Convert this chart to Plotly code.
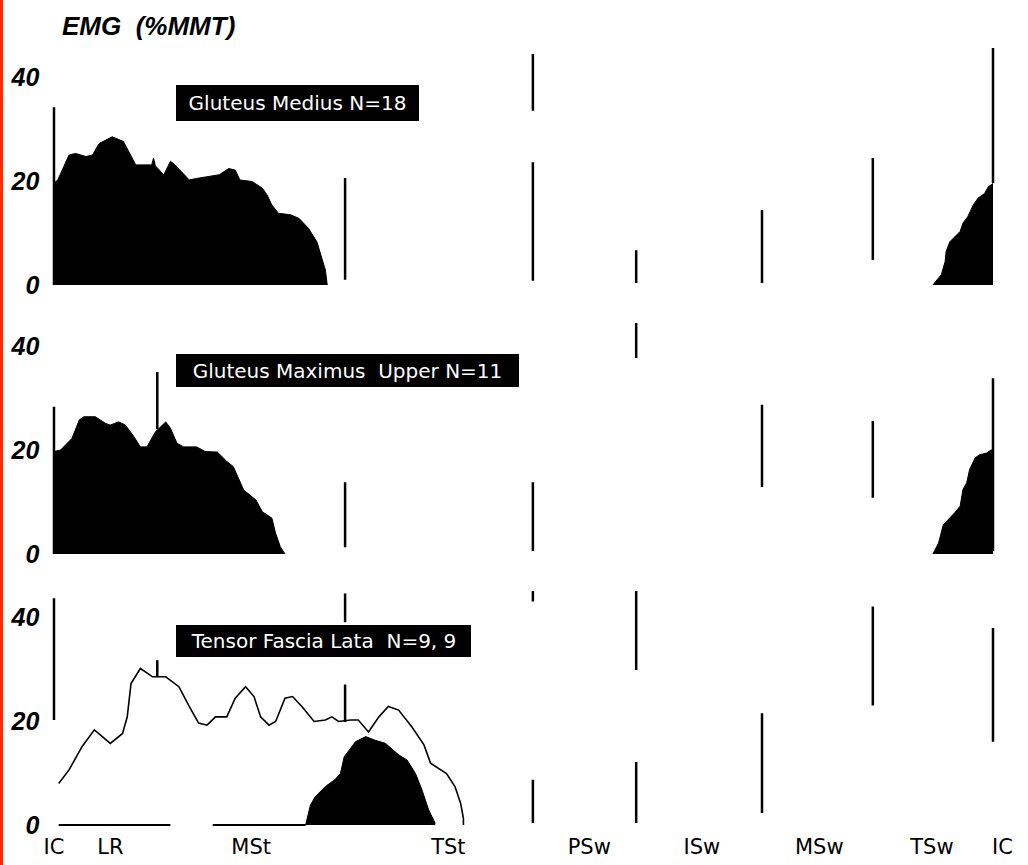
import plotly.graph_objects as go
from plotly.subplots import make_subplots

# ---------------- data (percent of gait cycle vs %MMT) ----------------
phase_labels = ["IC", "LR", "MSt", "TSt", "PSw", "ISw", "MSw", "TSw", "IC"]
phase_label_pos = [0, 6, 21, 42, 57, 69, 81.5, 93.5, 101]

gmed_x = [0, 0.4, 1.6, 2.3, 3.4, 4.1, 4.8, 6.2, 7.4, 8.7, 10.4, 10.6, 10.8, 11.7, 12.4, 12.9,
          14.4, 15.2, 17.6, 18.6, 19.3, 19.8, 21.1, 22.2, 22.7, 23.2, 23.9, 25.2, 26.1, 27.1,
          28.0, 28.5, 28.9, 29.1]
gmed_y = [19.6, 20.2, 25.0, 25.3, 24.7, 25.0, 27.2, 28.5, 27.6, 23.1, 23.1, 24.4, 22.9, 21.2,
          23.8, 23.1, 20.2, 20.5, 21.2, 22.4, 22.1, 20.2, 19.9, 18.6, 17.3, 15.4, 13.8, 13.5,
          12.8, 10.9, 8.3, 5.4, 2.9, 0]
gmed_tsw_x = [93.6, 94.5, 94.9, 95.0, 95.4, 95.9, 96.5, 96.8, 97.3, 97.9, 98.4, 99.1, 99.5, 100]
gmed_tsw_y = [0, 2.0, 4.5, 6.4, 8.3, 9.3, 10.3, 11.9, 13.1, 15.4, 16.7, 17.6, 18.9, 19.5]

gmax_x = [0, 0.7, 1.9, 2.7, 3.2, 4.4, 5.5, 6.0, 6.9, 7.6, 8.5, 9.2, 9.9, 10.8, 11.9, 12.4,
          13.1, 13.8, 15.2, 16.1, 17.4, 18.4, 19.1, 19.7, 20.2, 21.5, 22.2, 23.2, 23.6, 24.1, 24.6]
gmax_y = [19.7, 20.0, 22.2, 25.8, 26.4, 26.4, 25.1, 24.8, 25.4, 24.8, 22.6, 20.6, 20.6, 23.5,
          25.4, 24.2, 21.3, 20.6, 20.6, 19.7, 19.6, 17.8, 16.8, 14.2, 12.3, 10.4, 8.1, 6.9,
          4.0, 1.4, 0]
gmax_tsw_x = [93.6, 94.2, 94.7, 95.4, 95.9, 96.5, 96.8, 97.2, 97.5, 98.1, 98.6, 99.3, 99.8, 100]
gmax_tsw_y = [0, 2.1, 5.6, 6.9, 7.9, 9.2, 12.4, 13.7, 16.2, 18.5, 19.1, 19.4, 20.0, 20.0]

tfl_line_x = [0.5, 1.6, 3.0, 4.3, 6.0, 7.3, 7.8, 8.2, 9.2, 10.5, 11.9, 13.3, 14.4, 15.4, 16.3,
              17.2, 18.4, 19.3, 20.4, 21.3, 22.0, 22.9, 23.6, 24.6, 25.4, 26.4, 27.7, 28.9,
              29.6, 30.3, 31.6, 32.4, 33.5, 34.6, 35.6, 36.7, 38.1, 39.4, 40.1, 41.0, 41.8,
              42.7, 43.3, 43.6, 43.6]
tfl_line_y = [8.0, 10.6, 15.1, 18.3, 15.7, 17.6, 20.8, 27.2, 30.1, 28.5, 28.5, 26.6, 22.8,
              19.6, 19.2, 20.8, 20.8, 24.4, 26.6, 24.7, 20.8, 19.2, 19.9, 24.4, 24.7, 22.8,
              19.9, 20.2, 20.8, 19.9, 20.2, 20.2, 17.9, 20.8, 22.8, 22.1, 18.9, 15.4, 11.9,
              10.9, 9.9, 7.4, 4.2, 1.3, 0]
tfl_fill_x = [26.8, 27.3, 27.8, 28.9, 29.9, 30.5, 30.9, 31.4, 32.1, 33.2, 34.2, 35.3, 36.2,
              36.7, 37.6, 38.5, 39.2, 39.9, 40.6]
tfl_fill_y = [0, 3.8, 5.4, 7.4, 8.7, 9.9, 13.1, 14.4, 16.0, 17.0, 16.3, 15.7, 14.4, 13.5,
              12.5, 9.9, 6.7, 2.9, 0.3]
tfl_base_x = [0.5, 12.4, None, 16.9, 26.8]
tfl_base_y = [0, 0, None, 0, 0]

# phase divider segments: (x, low, high) per panel
seg1_x = [0, 31, 51, 51, 62, 75.4, 87.2, 100]
seg1_lo = [0, 1.0, 33.5, 0.8, 0.4, 0.4, 4.8, 19.6]
seg1_hi = [34.2, 20.6, 44.4, 23.6, 6.7, 14.4, 24.4, 45.6]

seg2_x = [0, 11, 31, 51, 62, 75.4, 87.2, 100]
seg2_lo = [0, 24.0, 1.3, 0.6, 37.7, 12.9, 10.8, 0.6]
seg2_hi = [28.3, 35.0, 13.8, 13.8, 44.4, 28.7, 25.6, 33.8]

seg3_x = [0, 11, 31, 31, 51, 51, 62, 62, 75.4, 87.2, 100]
seg3_lo = [20.2, 28.5, 19.8, 39.0, 0.4, 43.0, 29.8, 0.4, 2.3, 23.0, 16.0]
seg3_hi = [43.6, 31.7, 27.0, 44.5, 8.7, 45.0, 45.0, 12.1, 21.5, 42.0, 37.9]

titles = ["Gluteus Medius N=18", "Gluteus Maximus  Upper N=11", "Tensor Fascia Lata  N=9, 9"]

# ---------------- figure ----------------
W, H = 1028, 865
fig = make_subplots(rows=3, cols=1)

def segs(xs, lo, hi):
    X, Y = [], []
    for x, a, b in zip(xs, lo, hi):
        X += [x, x, None]
        Y += [a, b, None]
    return X, Y

def add_fill(x, y, row):
    fig.add_trace(go.Scatter(x=x, y=y, mode="lines", fill="tozeroy",
                             fillcolor="black", line=dict(color="black", width=1),
                             showlegend=False, hoverinfo="skip"), row=row, col=1)

add_fill(gmed_x, gmed_y, 1)
add_fill(gmed_tsw_x, gmed_tsw_y, 1)
add_fill(gmax_x, gmax_y, 2)
add_fill(gmax_tsw_x, gmax_tsw_y, 2)
add_fill(tfl_fill_x, tfl_fill_y, 3)
fig.add_trace(go.Scatter(x=tfl_line_x, y=tfl_line_y, mode="lines",
                         line=dict(color="black", width=1.6), showlegend=False,
                         hoverinfo="skip"), row=3, col=1)
fig.add_trace(go.Scatter(x=tfl_base_x, y=tfl_base_y, mode="lines",
                         line=dict(color="black", width=2), showlegend=False,
                         hoverinfo="skip"), row=3, col=1)

for r, (sx, lo, hi) in enumerate([(seg1_x, seg1_lo, seg1_hi), (seg2_x, seg2_lo, seg2_hi),
                                  (seg3_x, seg3_lo, seg3_hi)], start=1):
    X, Y = segs(sx, lo, hi)
    fig.add_trace(go.Scatter(x=X, y=Y, mode="lines", line=dict(color="black", width=2.5),
                             showlegend=False, hoverinfo="skip"), row=r, col=1)

# pixel-derived domains
x0_px, px_per = 54, 9.39
xr = [-0.6, 101.6]
xdom = [(x0_px + xr[0] * px_per) / W, (x0_px + xr[1] * px_per) / W]
py_per = 5.2
yr = [-1, 46]
zeros = [285, 554, 825]

tickfont = dict(family="Liberation Sans", size=25, weight="bold", style="italic", color="black")
for i, z in enumerate(zeros, start=1):
    bot = z - yr[0] * py_per
    top = z - yr[1] * py_per
    sfx = "" if i == 1 else str(i)
    fig.layout["yaxis" + sfx].update(domain=[1 - bot / H, 1 - top / H], range=yr,
                                      tickvals=[0, 20, 40], showgrid=False, zeroline=False,
                                      showline=False, ticks="", tickfont=tickfont,
                                      ticklabelstandoff=8, automargin=False)
    fig.layout["xaxis" + sfx].update(domain=xdom, range=xr, showgrid=False, zeroline=False,
                                      showline=False, ticks="", showticklabels=(i == 3),
                                      automargin=False)
    fig.add_annotation(text=titles[i - 1], xref="x" + sfx, yref="y" + sfx,
                       x=13.0, y=38.4, xanchor="left", yanchor="top", showarrow=False,
                       font=dict(family="DejaVu Sans", size=20, color="white"),
                       bgcolor="black", borderpad=0, borderwidth=0,
                       width=[243, 343, 295][i - 1], height=[36, 33, 32][i - 1],
                       align="center", valign="middle")

fig.update_layout(xaxis3=dict(tickvals=phase_label_pos, ticktext=phase_labels,
                              tickfont=dict(family="DejaVu Sans", size=21, color="black"),
                              ticklabelstandoff=2))

fig.add_annotation(text="EMG  (%MMT)", xref="paper", yref="paper", x=60 / W, y=1 - 9 / H,
                   xanchor="left", yanchor="top", showarrow=False,
                   font=dict(family="Liberation Sans", size=26, weight="bold",
                             style="italic", color="black"))

fig.add_shape(type="rect", xref="paper", yref="paper", x0=0, x1=3 / W, y0=0, y1=1,
              fillcolor="#ff2a00", line=dict(width=0), layer="above")

fig.update_layout(width=W, height=H, margin=dict(l=0, r=0, t=0, b=0),
                  paper_bgcolor="white", plot_bgcolor="white", showlegend=False)

fig.write_html("out.html", config={"displayModeBar": False},
               post_script="document.body.style.margin='0';document.body.style.overflow='hidden';")
